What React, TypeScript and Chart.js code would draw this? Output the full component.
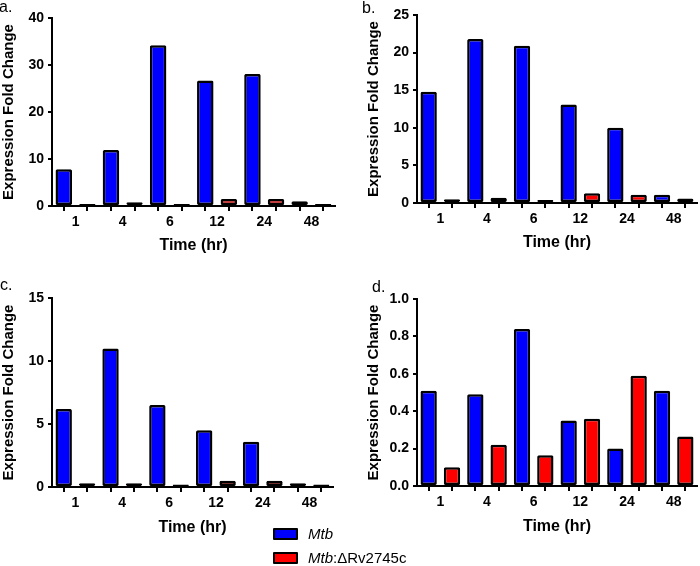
import React, { useEffect, useRef } from "react";
import { Chart, registerables } from "chart.js";

Chart.register(...registerables);

// ---------- data ----------
const timeLabels = ["1", "4", "6", "12", "24", "48"];

const mtbA = [7.8, 11.9, 34.2, 26.7, 28.1, 1.0];
const koA = [0.4, 0.8, 0.4, 1.5, 1.5, 0.4];

const mtbB = [14.8, 21.8, 20.9, 13.1, 10.0, 1.1];
const koB = [0.5, 0.7, 0.4, 1.3, 1.1, 0.6];

const mtbC = [6.2, 11.0, 6.5, 4.5, 3.6, 0.3];
const koC = [0.3, 0.3, 0.2, 0.5, 0.5, 0.2];

const mtbD = [0.51, 0.49, 0.84, 0.35, 0.2, 0.51];
const koD = [0.1, 0.22, 0.165, 0.36, 0.59, 0.265];

const yMaxes = [40, 25, 15, 1.0];
const ySteps = [10, 5, 5, 0.2];
const yDecimals = [0, 0, 0, 1];

const seriesNames = ["Mtb", "Mtb:ΔRv2745c"];
const yTitle = "Expression Fold Change";
const xTitle = "Time (hr)";

// ---------- style ----------
const FONT = "'Liberation Sans', Arial, sans-serif";
const BLUE = "#0000ff";
const RED = "#ff0000";

type PanelLayout = {
  left: number;
  top: number;
  w: number;
  h: number;
  areaL: number;
  areaT: number;
  areaR: number;
  areaB: number;
  xH: number;
};

const layouts: PanelLayout[] = [
  { left: 0, top: 0, w: 350, h: 260, areaL: 52, areaT: 18, areaR: 335, areaB: 206, xH: 49 },
  { left: 365, top: 0, w: 335, h: 260, areaL: 52, areaT: 15, areaR: 332, areaB: 203, xH: 49 },
  { left: 0, top: 280, w: 350, h: 270, areaL: 52, areaT: 18, areaR: 333, areaB: 207, xH: 50 },
  { left: 365, top: 280, w: 335, h: 270, areaL: 52, areaT: 19, areaR: 332, areaB: 206, xH: 50 },
];

const panelData = [
  [mtbA, koA],
  [mtbB, koB],
  [mtbC, koC],
  [mtbD, koD],
];

function interleave(a: number[], first: boolean): (number | null)[] {
  const out: (number | null)[] = [];
  a.forEach((v) => {
    if (first) out.push(v, null);
    else out.push(null, v);
  });
  return out;
}

function Panel({ idx }: { idx: number }) {
  const ref = useRef<HTMLCanvasElement | null>(null);
  const L = layouts[idx];
  useEffect(() => {
    if (!ref.current) return;
    const [mtb, ko] = panelData[idx];
    const labels: string[] = [];
    timeLabels.forEach((t) => labels.push(t, t + " "));
    const slot = (L.areaR - L.areaL) / 12;
    const barStyle = {
      borderColor: "#000",
      borderWidth: 2.5,
      borderSkipped: false,
      borderRadius: 1.5,
      grouped: false,
      barPercentage: 0.7,
      categoryPercentage: 1,
    };
    const chart = new Chart(ref.current, {
      type: "bar",
      data: {
        labels,
        datasets: [
          { label: seriesNames[0], data: interleave(mtb, true), backgroundColor: BLUE, ...barStyle } as any,
          { label: seriesNames[1], data: interleave(ko, false), backgroundColor: RED, ...barStyle } as any,
        ],
      },
      options: {
        animation: false,
        responsive: false,
        maintainAspectRatio: false,
        layout: {
          padding: {
            left: 0,
            top: L.areaT,
            right: L.w - L.areaR,
            bottom: L.h - L.areaB - L.xH,
          },
        },
        plugins: {
          legend: { display: false },
          tooltip: { enabled: false },
        },
        scales: {
          x: {
            type: "category",
            offset: true,
            border: { display: true, color: "#000", width: 2 },
            grid: {
              offset: false,
              drawOnChartArea: false,
              drawTicks: true,
              tickLength: 5,
              color: "#000",
              lineWidth: 2,
            },
            ticks: {
              autoSkip: false,
              maxRotation: 0,
              minRotation: 0,
              labelOffset: slot / 2,
              padding: 3,
              color: "#000",
              font: { family: FONT, size: 14, weight: "bold" },
              callback: (_v: any, i: number) => (i % 2 === 0 ? timeLabels[i / 2] : ""),
            },
            title: {
              display: true,
              text: xTitle,
              color: "#000",
              padding: 0,
              font: { family: FONT, size: 16, weight: "bold" },
            },
            afterFit: (s: any) => {
              s.height = L.xH;
            },
          } as any,
          y: {
            min: 0,
            max: yMaxes[idx],
            border: { display: true, color: "#000", width: 2 },
            grid: {
              drawOnChartArea: false,
              drawTicks: true,
              tickLength: 4,
              color: "#000",
              lineWidth: 2,
            },
            ticks: {
              stepSize: ySteps[idx],
              padding: 4,
              color: "#000",
              font: { family: FONT, size: 14, weight: "bold" },
              callback: (v: any) => Number(v).toFixed(yDecimals[idx]),
            },
            title: {
              display: true,
              text: yTitle,
              color: "#000",
              padding: 0,
              font: { family: FONT, size: 15, weight: "bold" },
            },
            afterFit: (s: any) => {
              s.width = L.areaL;
            },
          } as any,
        },
      },
    });
    return () => chart.destroy();
  }, [idx]);
  return (
    <canvas
      ref={ref}
      width={L.w}
      height={L.h}
      style={{ position: "absolute", left: L.left, top: L.top, width: L.w, height: L.h }}
    />
  );
}

const panelLetters = [
  { t: "a.", x: -1, y: -1.5 },
  { t: "b.", x: 362, y: -0.5 },
  { t: "c.", x: 0, y: 276.5 },
  { t: "d.", x: 372, y: 278.5 },
];

export default function App() {
  return (
    <div
      style={{
        position: "fixed",
        left: 0,
        top: 0,
        width: 700,
        height: 566,
        background: "#fff",
        overflow: "hidden",
        fontFamily: FONT,
      }}
    >
      {[0, 1, 2, 3].map((i) => (
        <Panel key={i} idx={i} />
      ))}
      {panelLetters.map((p) => (
        <div
          key={p.t}
          style={{
            position: "absolute",
            left: p.x,
            top: p.y,
            fontSize: 16,
            lineHeight: "16px",
            color: "#000",
          }}
        >
          {p.t}
        </div>
      ))}
      {/* legend */}
      <div style={{ position: "absolute", left: 273, top: 528, width: 25, height: 12, background: BLUE, border: "2px solid #000", boxSizing: "border-box", borderRadius: 1 }} />
      <div style={{ position: "absolute", left: 308, top: 525, fontSize: 15, lineHeight: "18px", color: "#000", fontStyle: "italic" }}>
        {seriesNames[0]}
      </div>
      <div style={{ position: "absolute", left: 273, top: 552, width: 25, height: 12, background: RED, border: "2px solid #000", boxSizing: "border-box", borderRadius: 1 }} />
      <div style={{ position: "absolute", left: 308, top: 549, fontSize: 15, lineHeight: "18px", color: "#000", whiteSpace: "nowrap" }}>
        <span style={{ fontStyle: "italic" }}>Mtb</span>
        {seriesNames[1].slice(3)}
      </div>
    </div>
  );
}
